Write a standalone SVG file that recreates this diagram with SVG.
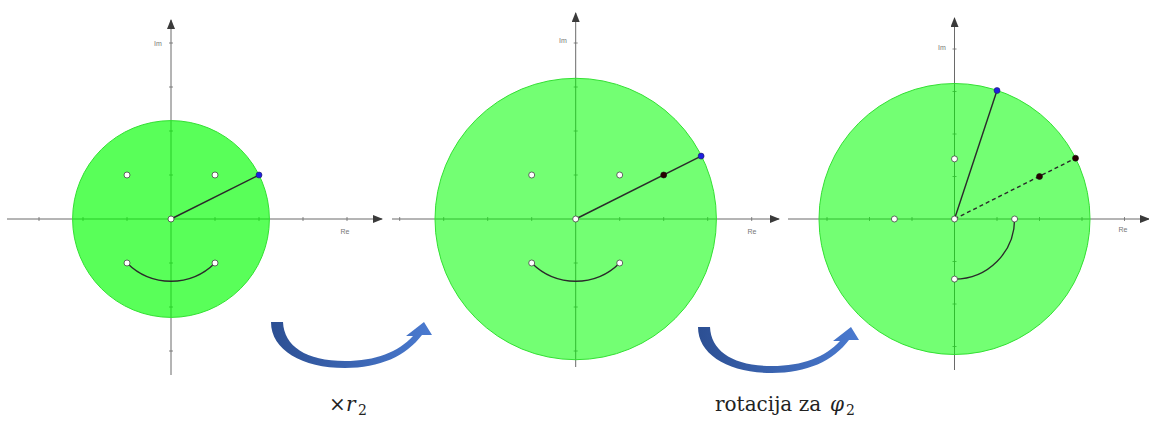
<svg xmlns="http://www.w3.org/2000/svg" width="1149" height="421" viewBox="0 0 1149 421">
<style>
.axis{stroke:#6a6a6a;stroke-width:1;fill:none}
.tick{stroke:#6a6a6a;stroke-width:0.8;fill:none}
.lbl{font-family:"Liberation Sans",Arial,sans-serif;font-size:7px;fill:#777}
.disk1{fill:#00ff00;fill-opacity:0.65;stroke:#33e033;stroke-width:1}
.disk2{fill:#00ff00;fill-opacity:0.55;stroke:#33e033;stroke-width:1}
.seg{stroke:#2a2a2a;stroke-width:1.4;fill:none}
.dash{stroke:#2a2a2a;stroke-width:1.4;fill:none;stroke-dasharray:4 3}
.mouth{stroke:#2a2a2a;stroke-width:1.3;fill:none}
.wp{fill:#fff;stroke:#444;stroke-width:0.8}
.bp{fill:#1f1fe0;stroke:#202060;stroke-width:0.6}
.kp{fill:#2a0000;stroke:#111;stroke-width:0.6}
.cap{font-family:"DejaVu Serif","Liberation Serif",serif;font-size:20px;fill:#222}
</style>
<defs>
<marker id="ah" viewBox="0 0 10 8" refX="9" refY="4" markerWidth="10" markerHeight="8" markerUnits="userSpaceOnUse" orient="auto">
<path d="M0,0 L10,4 L0,8 Z" fill="#3a3a3a"/>
</marker>
<linearGradient id="bg" x1="0" y1="0" x2="1" y2="0">
<stop offset="0" stop-color="#2c4f93"/>
<stop offset="1" stop-color="#4a7ad0"/>
</linearGradient>
<path id="swoosh" d="M 271 322 C 271 350 302 368 345 368 C 380 368 406 356 422 335 L 432 335 L 424 322 L 406 336 L 413 336 C 398 352 376 361 345 361 C 306 361 284 346 283 322 Z" fill="url(#bg)"/>
</defs>

<g id="panel1">
<line class="axis" x1="7" y1="219" x2="382" y2="219" marker-end="url(#ah)"/>
<line class="axis" x1="171" y1="375" x2="171" y2="20" marker-end="url(#ah)"/>
<path class="tick" d="M39 217v4M83 217v4M127 217v4M215 217v4M259 217v4M303 217v4M347 217v4M169 43h4M169 87h4M169 131h4M169 175h4M169 263h4M169 307h4M169 351h4"/>
<text class="lbl" x="158" y="46" text-anchor="middle">Im</text>
<text class="lbl" x="345" y="234" text-anchor="middle">Re</text>
<circle class="disk1" cx="171" cy="219" r="98.4"/>
<line class="seg" x1="171" y1="219" x2="259" y2="175"/>
<path class="mouth" d="M127 263 A62.2 62.2 0 0 0 215 263"/>
<circle class="wp" cx="127" cy="175" r="3"/>
<circle class="wp" cx="215" cy="175" r="3"/>
<circle class="wp" cx="127" cy="263" r="3"/>
<circle class="wp" cx="215" cy="263" r="3"/>
<circle class="wp" cx="171" cy="219" r="3"/>
<circle class="bp" cx="259" cy="175" r="3"/>
</g>

<g id="panel2">
<line class="axis" x1="392" y1="219" x2="779" y2="219" marker-end="url(#ah)"/>
<line class="axis" x1="575.7" y1="367" x2="575.7" y2="13" marker-end="url(#ah)"/>
<path class="tick" d="M399.7 217v4M443.7 217v4M487.7 217v4M531.7 217v4M619.7 217v4M663.7 217v4M707.7 217v4M751.7 217v4M573.7 43h4M573.7 87h4M573.7 131h4M573.7 175h4M573.7 263h4M573.7 307h4M573.7 351h4"/>
<text class="lbl" x="563" y="43" text-anchor="middle">Im</text>
<text class="lbl" x="752" y="234" text-anchor="middle">Re</text>
<circle class="disk2" cx="575.7" cy="219" r="140.7"/>
<line class="seg" x1="575.7" y1="219" x2="701.1" y2="156.1"/>
<path class="mouth" d="M531.7 263 A62.2 62.2 0 0 0 619.7 263"/>
<circle class="wp" cx="531.7" cy="175" r="3"/>
<circle class="wp" cx="619.7" cy="175" r="3"/>
<circle class="wp" cx="531.7" cy="263" r="3"/>
<circle class="wp" cx="619.7" cy="263" r="3"/>
<circle class="wp" cx="575.7" cy="219" r="3"/>
<circle class="kp" cx="663.7" cy="175" r="3"/>
<circle class="bp" cx="701.1" cy="156.1" r="3"/>
</g>

<g id="panel3">
<line class="axis" x1="788" y1="219" x2="1149" y2="219" marker-end="url(#ah)"/>
<line class="axis" x1="954.5" y1="370" x2="954.5" y2="18" marker-end="url(#ah)"/>
<path class="tick" d="M827 217v4M869.5 217v4M912 217v4M997 217v4M1039.5 217v4M1082 217v4M1124.5 217v4M952.5 49h4M952.5 91.5h4M952.5 134h4M952.5 176.5h4M952.5 261.5h4M952.5 304h4M952.5 346.5h4"/>
<text class="lbl" x="942" y="50" text-anchor="middle">Im</text>
<text class="lbl" x="1123" y="232" text-anchor="middle">Re</text>
<circle class="disk2" cx="954.5" cy="219" r="135.5"/>
<line class="seg" x1="954.5" y1="219" x2="997" y2="90.5"/>
<line class="dash" x1="954.5" y1="219" x2="1075.5" y2="158.2"/>
<path class="mouth" d="M954.5 279.1 A60.1 60.1 0 0 0 1014.6 219"/>
<circle class="wp" cx="894.4" cy="219" r="3"/>
<circle class="wp" cx="954.5" cy="158.9" r="3"/>
<circle class="wp" cx="954.5" cy="279.1" r="3"/>
<circle class="wp" cx="1014.6" cy="219" r="3"/>
<circle class="wp" cx="954.5" cy="219" r="3"/>
<circle class="kp" cx="1039.5" cy="176.5" r="3"/>
<circle class="kp" cx="1075.5" cy="158.2" r="3"/>
<circle class="bp" cx="997" cy="90.5" r="3"/>
</g>

<g id="connectors">
<use href="#swoosh"/>
<use href="#swoosh" transform="translate(427,5)"/>
</g>

<g id="captions">
<text class="cap" y="411"><tspan x="329">×</tspan><tspan x="346" font-style="italic">r</tspan><tspan x="358" dy="4" font-size="14">2</tspan></text>
<text class="cap" y="411"><tspan x="715">rotacija za </tspan><tspan x="830" font-style="italic">φ</tspan><tspan x="846" dy="4" font-size="14">2</tspan></text>
</g>
</svg>
